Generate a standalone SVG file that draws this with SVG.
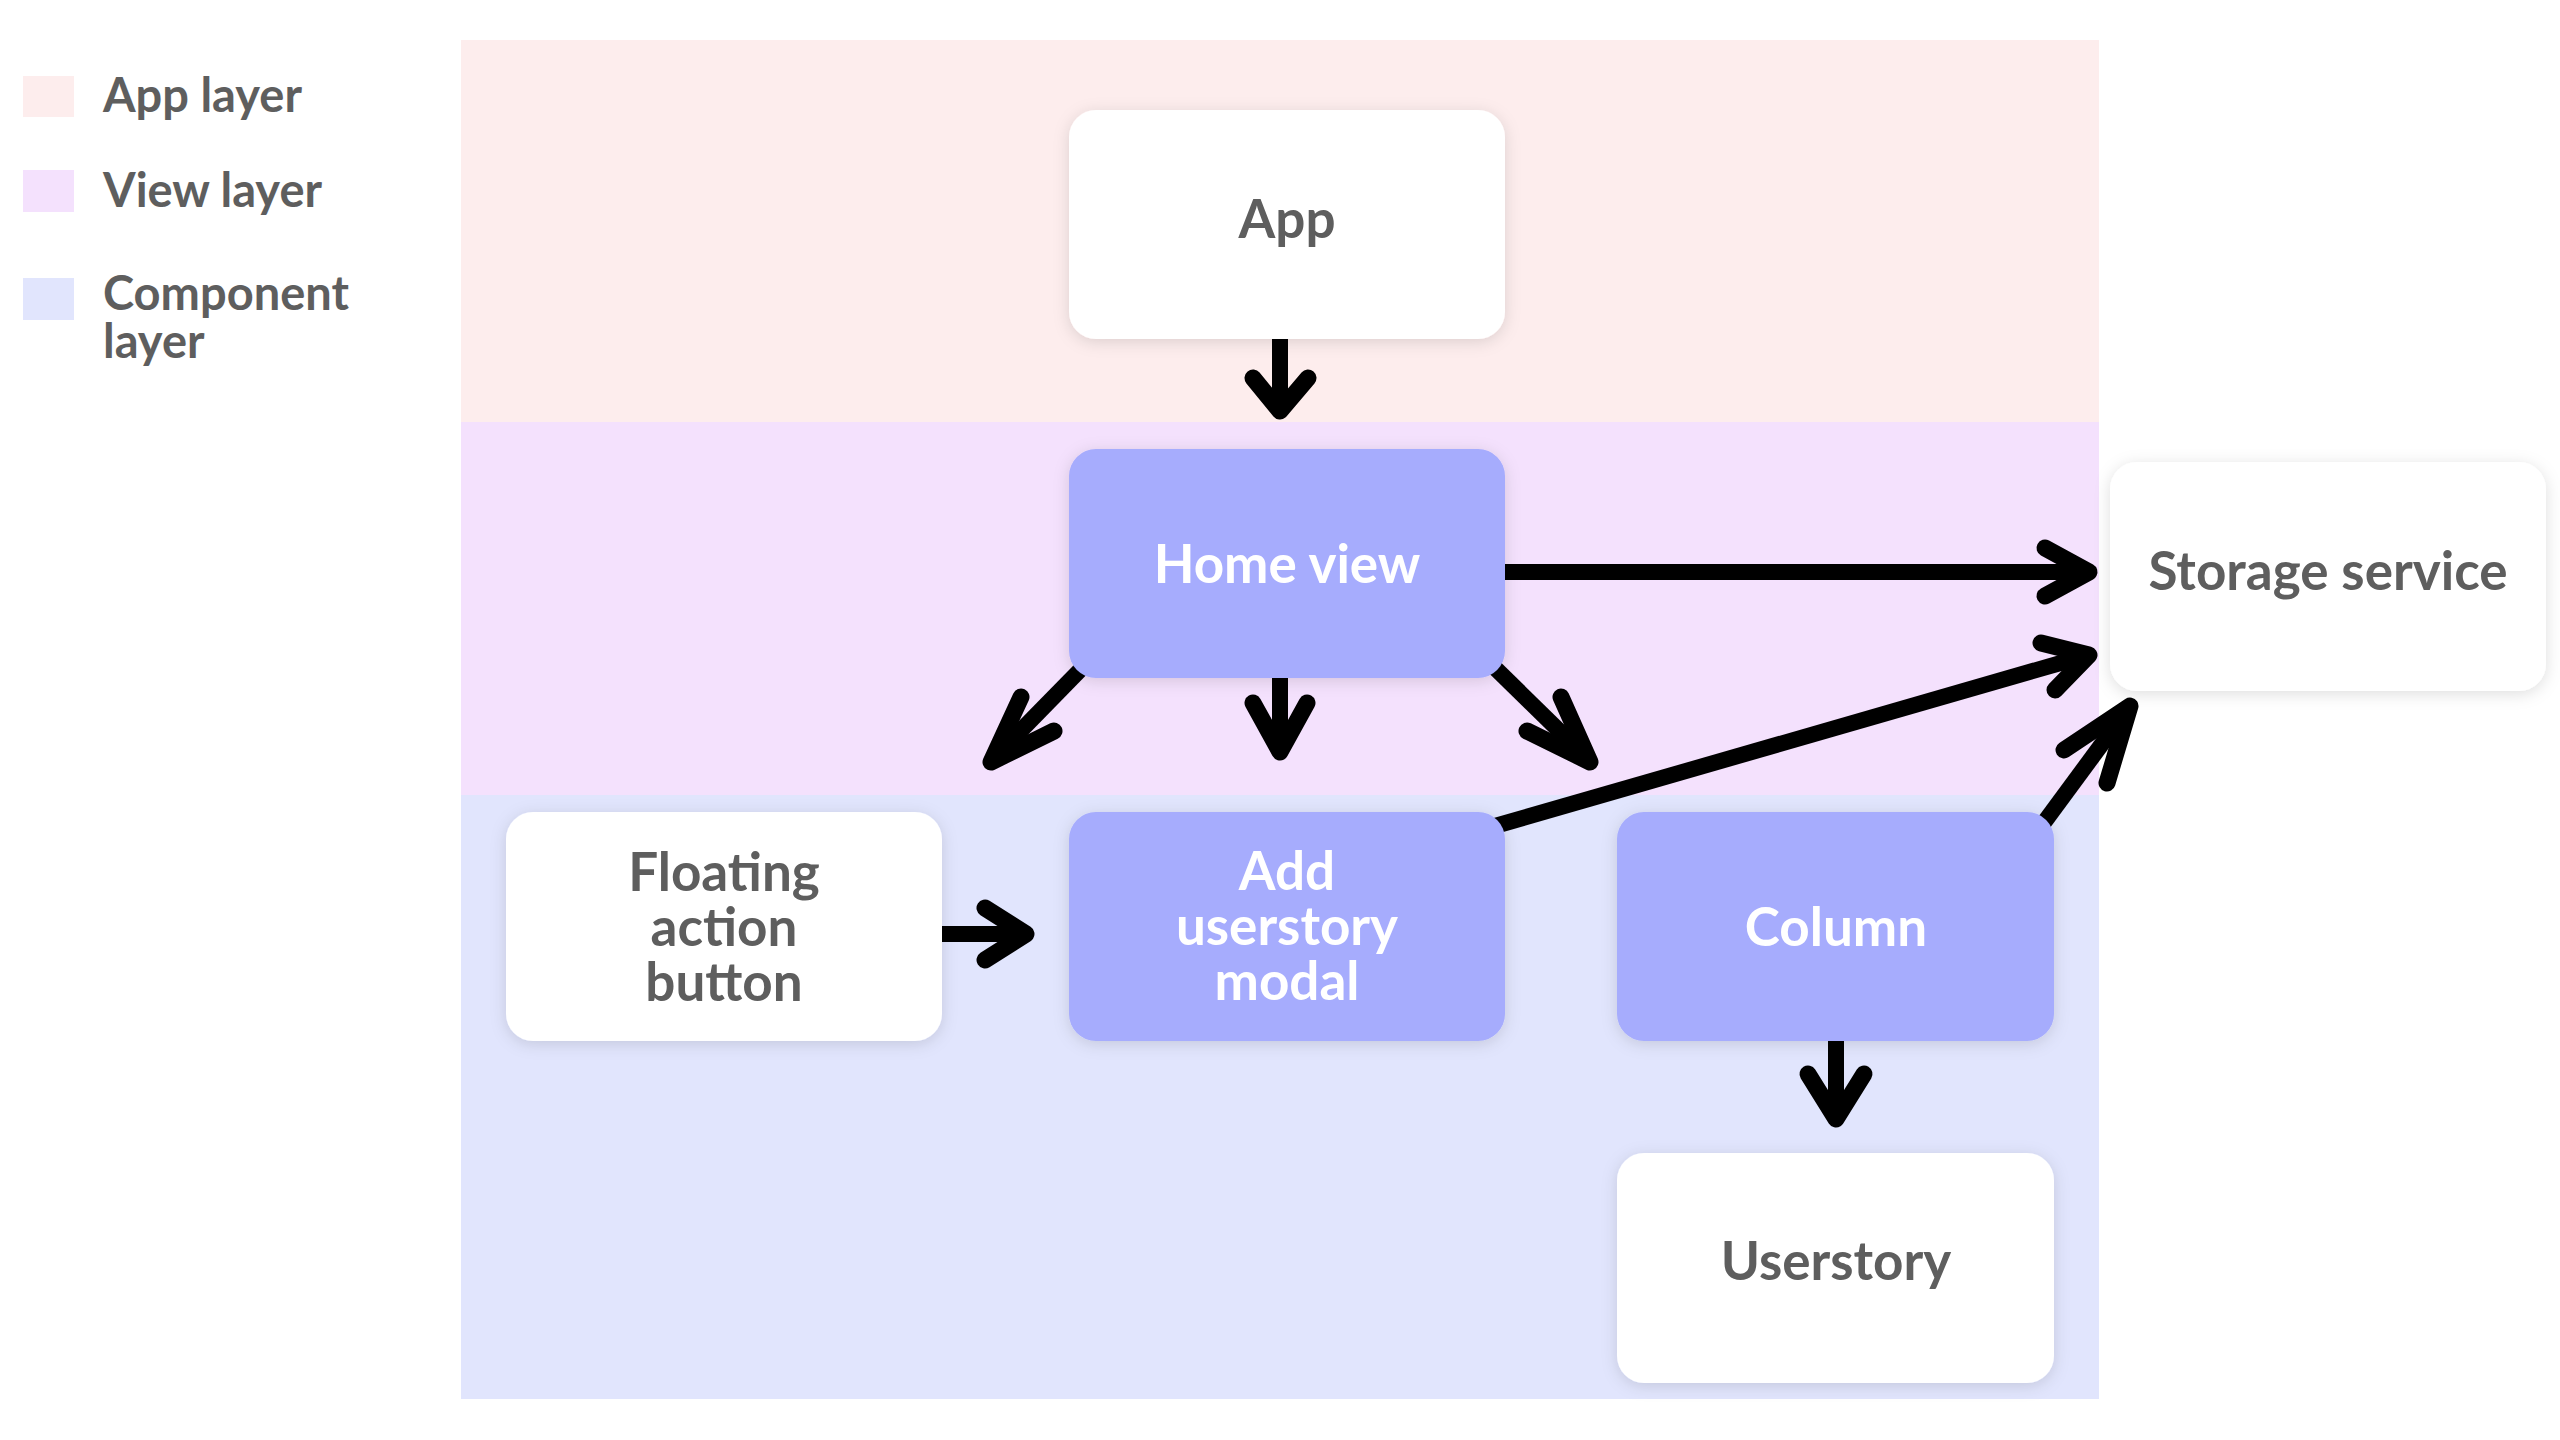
<svg xmlns="http://www.w3.org/2000/svg" width="2560" height="1440" viewBox="0 0 2560 1440">
<defs>
<style>
.lbl{font-family:Lato,"Noto Sans",sans-serif;font-weight:700;font-size:53px;text-anchor:middle;fill:#5e5e5e}
.lbl.w{fill:#ffffff}
.leg{font-family:Lato,"Noto Sans",sans-serif;font-weight:700;font-size:47px;fill:#5e5e5e}
.node{fill:#ffffff}
.node.b{fill:#a6acfd}
.c{fill:none;stroke:#000;stroke-width:16;stroke-linecap:butt}
.h{fill:none;stroke:#000;stroke-width:17;stroke-linecap:round;stroke-linejoin:round}
</style>
<filter id="sh" x="-20%" y="-20%" width="140%" height="140%">
<feDropShadow dx="0" dy="3" stdDeviation="8" flood-color="#000" flood-opacity="0.13"/>
</filter>
</defs>
<rect width="2560" height="1440" fill="#ffffff"/>
<g id="bands">
<rect x="461" y="40" width="1638" height="382" fill="#fdeded"/>
<rect x="461" y="422" width="1638" height="373" fill="#f4e1fd"/>
<rect x="461" y="795" width="1638" height="604" fill="#e1e5fd"/>
</g>
<g id="legend">
<rect x="23" y="76" width="51" height="41" fill="#fdeded"/>
<rect x="23" y="170" width="51" height="42" fill="#f4e1fd"/>
<rect x="23" y="278" width="51" height="42" fill="#e1e5fd"/>
<text class="leg" x="103" y="112">App layer</text>
<text class="leg" x="103" y="207">View layer</text>
<text class="leg" x="103" y="310">Component<tspan x="103" dy="48">layer</tspan></text>
</g>
<g id="connectors">
<line class="c" x1="1280" y1="330" x2="1280" y2="408"/>
<polyline class="h" points="1253,378 1280,411 1308,378"/>
<line class="c" x1="1500" y1="572" x2="2086" y2="572"/>
<polyline class="h" points="2045,548 2089,572 2045,596"/>
<line class="c" x1="1280" y1="670" x2="1280" y2="748"/>
<polyline class="h" points="1253,703 1280,752 1307,703"/>
<line class="c" x1="1085" y1="665" x2="994" y2="758"/>
<polyline class="h" points="1021,697 991,762 1054,731"/>
<line class="c" x1="1492" y1="665" x2="1587" y2="758"/>
<polyline class="h" points="1561,697 1590,762 1527,731"/>
<line class="c" x1="1495" y1="826" x2="2085" y2="656"/>
<polyline class="h" points="2041,643 2089,655 2055,690"/>
<line class="c" x1="2040" y1="828" x2="2127" y2="710"/>
<polyline class="h" points="2064,750 2130,706 2107,783"/>
<line class="c" x1="935" y1="934" x2="1022" y2="934"/>
<polyline class="h" points="985,908 1026,934 985,960"/>
<line class="c" x1="1836" y1="1035" x2="1836" y2="1115"/>
<polyline class="h" points="1808,1074 1836,1119 1864,1074"/>
</g>
<g id="node-app">
<rect class="node" x="1069" y="110" width="436" height="229" rx="27" filter="url(#sh)"/>
<text class="lbl" x="1287" y="238">App</text>
</g>
<g id="node-home">
<rect class="node b" x="1069" y="449" width="436" height="229" rx="27" filter="url(#sh)"/>
<text class="lbl w" x="1287" y="583">Home view</text>
</g>
<g id="node-storage">
<rect class="node" x="2110" y="462" width="436" height="229" rx="27" filter="url(#sh)"/>
<text class="lbl" x="2328" y="590">Storage service</text>
</g>
<g id="node-fab">
<rect class="node" x="506" y="812" width="436" height="229" rx="27" filter="url(#sh)"/>
<text class="lbl" x="724" y="891">Floating<tspan x="724" dy="55">action</tspan><tspan x="724" dy="55">button</tspan></text>
</g>
<g id="node-add">
<rect class="node b" x="1069" y="812" width="436" height="229" rx="27" filter="url(#sh)"/>
<text class="lbl w" x="1287" y="890">Add<tspan x="1287" dy="55">userstory</tspan><tspan x="1287" dy="55">modal</tspan></text>
</g>
<g id="node-column">
<rect class="node b" x="1617" y="812" width="437" height="229" rx="27" filter="url(#sh)"/>
<text class="lbl w" x="1836" y="946">Column</text>
</g>
<g id="node-userstory">
<rect class="node" x="1617" y="1153" width="437" height="230" rx="27" filter="url(#sh)"/>
<text class="lbl" x="1836" y="1280">Userstory</text>
</g>
</svg>
